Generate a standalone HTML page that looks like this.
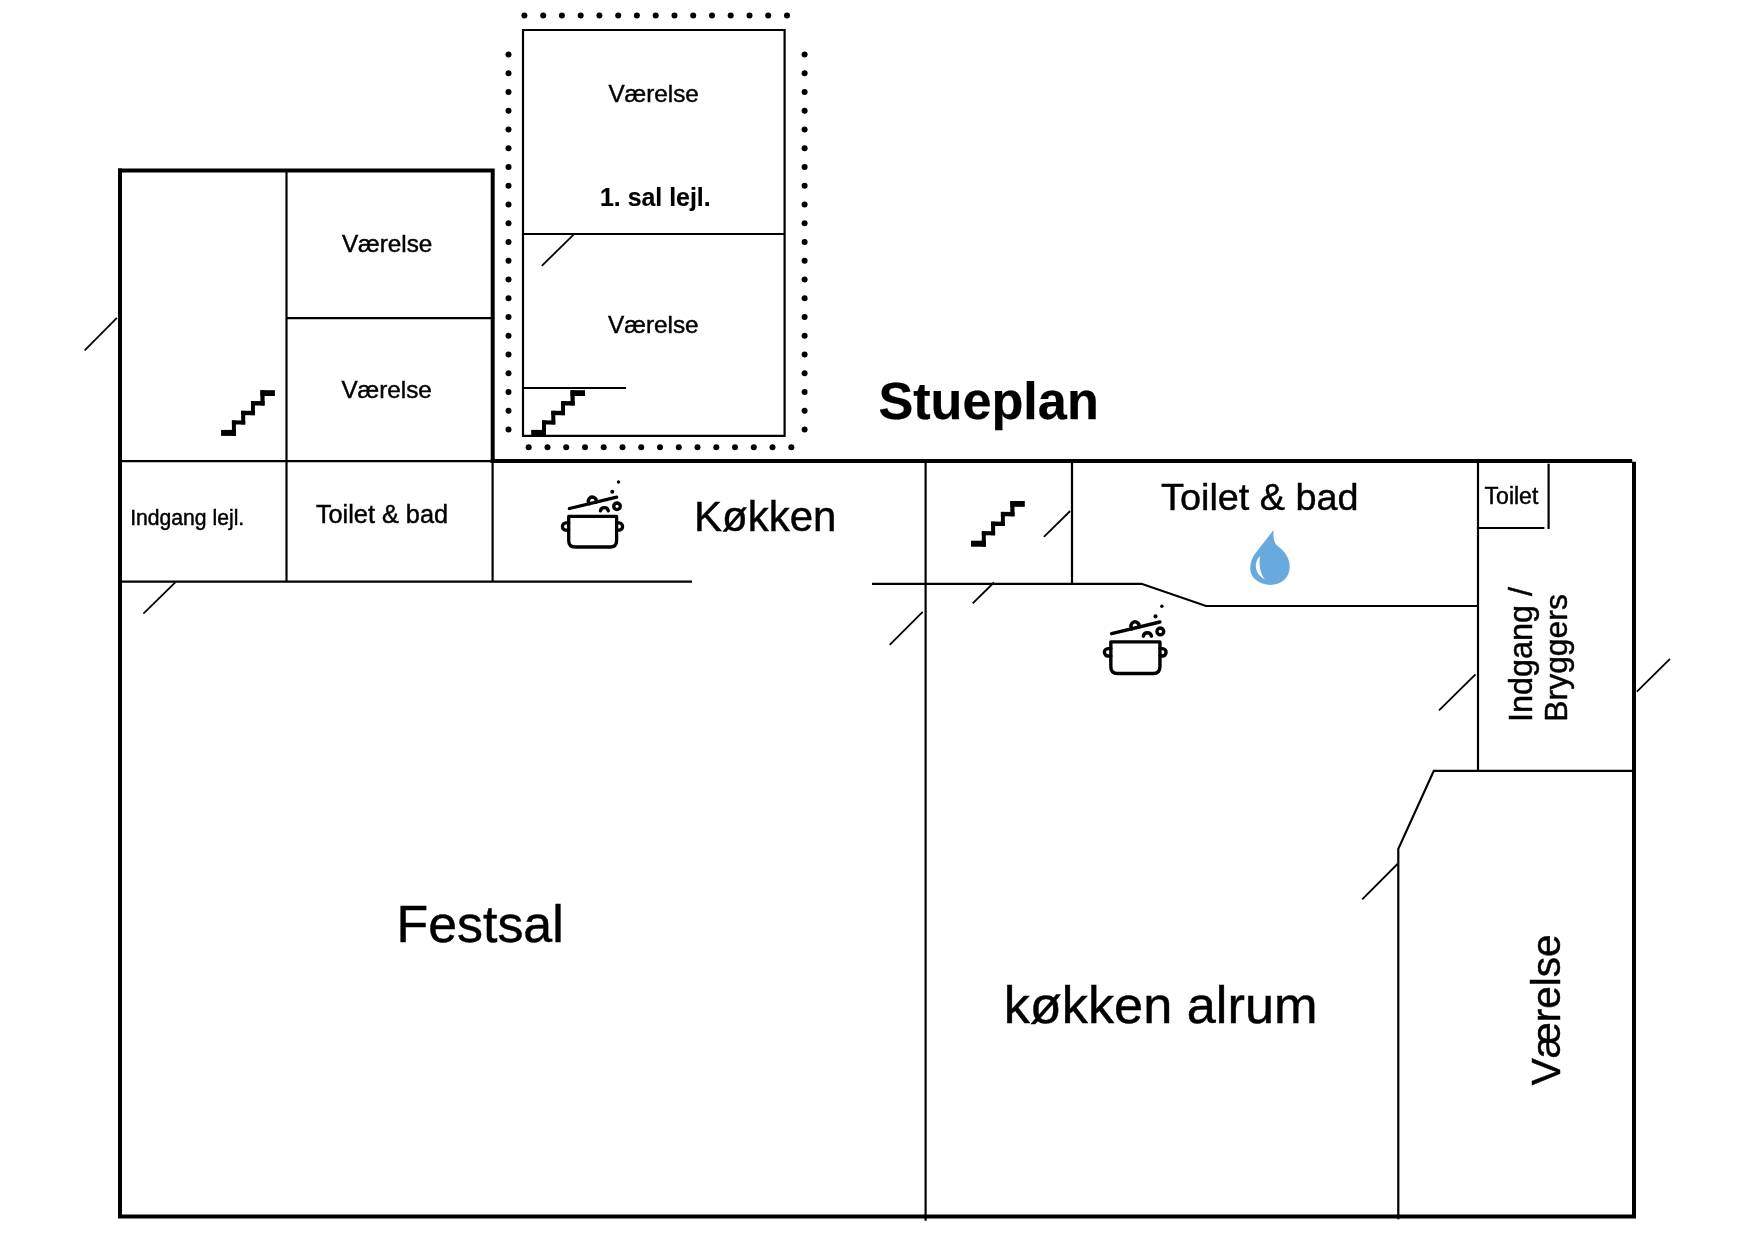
<!DOCTYPE html>
<html><head><meta charset="utf-8"><style>
html,body{margin:0;padding:0;background:#fff;width:1754px;height:1239px;overflow:hidden}
svg{display:block;will-change:transform}
text{font-family:"Liberation Sans",sans-serif;fill:#000;stroke:#000;stroke-width:0.45px}
</style></head><body>
<svg width="1754" height="1239" viewBox="0 0 1754 1239">
<rect width="1754" height="1239" fill="#fff"/>
<defs>
<g id="stairs">
<rect x="221.1" y="429.9" width="14.8" height="6.0"/>
<rect x="231.9" y="420.4" width="4.0" height="15.4"/>
<rect x="231.9" y="420.4" width="13.3" height="4.1"/>
<rect x="241.2" y="410.8" width="4.0" height="13.7"/>
<rect x="241.2" y="410.8" width="13.7" height="4.4"/>
<rect x="251.0" y="401.1" width="3.9" height="14.1"/>
<rect x="251.0" y="401.1" width="13.6" height="4.4"/>
<rect x="260.4" y="390.2" width="4.2" height="15.3"/>
<rect x="260.4" y="390.2" width="14.5" height="5.8"/>
</g>
<g id="pot" fill="none" stroke="#000" stroke-width="3.3" stroke-linecap="round" stroke-linejoin="round">
<path d="M568.7 516.4 H616.6 V540.5 Q616.6 547 610.1 547 H575.2 Q568.7 547 568.7 540.5 Z"/>
<path d="M568.7 522.9 H566 A3.6 3.6 0 0 0 566 530.1 H568.7"/>
<path d="M616.6 522.9 H619 A3.6 3.6 0 0 1 619 530.1 H616.6"/>
<path d="M569.4 508.5 L616.6 497.2"/>
<path d="M589.5 503.69 A3.9 3.9 0 1 1 596 502.13"/>
<path d="M600.4 510.9 A4 4 0 0 1 608.3 510.9"/>
<circle cx="617" cy="506.3" r="3.3"/>
<circle cx="612.3" cy="491.8" r="2.0" fill="#000" stroke="none"/>
<circle cx="618.5" cy="482" r="1.7" fill="#000" stroke="none"/>
</g>
</defs>
<g fill="#000">
<circle cx="524.4" cy="15.5" r="3.0"/>
<circle cx="543.2" cy="15.5" r="3.0"/>
<circle cx="561.9" cy="15.5" r="3.0"/>
<circle cx="580.7" cy="15.5" r="3.0"/>
<circle cx="599.4" cy="15.5" r="3.0"/>
<circle cx="618.2" cy="15.5" r="3.0"/>
<circle cx="636.9" cy="15.5" r="3.0"/>
<circle cx="655.7" cy="15.5" r="3.0"/>
<circle cx="674.5" cy="15.5" r="3.0"/>
<circle cx="693.2" cy="15.5" r="3.0"/>
<circle cx="712.0" cy="15.5" r="3.0"/>
<circle cx="730.7" cy="15.5" r="3.0"/>
<circle cx="749.5" cy="15.5" r="3.0"/>
<circle cx="768.2" cy="15.5" r="3.0"/>
<circle cx="787.0" cy="15.5" r="3.0"/>
<circle cx="528.7" cy="447.3" r="3.0"/>
<circle cx="547.5" cy="447.3" r="3.0"/>
<circle cx="566.2" cy="447.3" r="3.0"/>
<circle cx="585.0" cy="447.3" r="3.0"/>
<circle cx="603.7" cy="447.3" r="3.0"/>
<circle cx="622.5" cy="447.3" r="3.0"/>
<circle cx="641.2" cy="447.3" r="3.0"/>
<circle cx="660.0" cy="447.3" r="3.0"/>
<circle cx="678.8" cy="447.3" r="3.0"/>
<circle cx="697.5" cy="447.3" r="3.0"/>
<circle cx="716.3" cy="447.3" r="3.0"/>
<circle cx="735.0" cy="447.3" r="3.0"/>
<circle cx="753.8" cy="447.3" r="3.0"/>
<circle cx="772.5" cy="447.3" r="3.0"/>
<circle cx="791.3" cy="447.3" r="3.0"/>
<circle cx="508.5" cy="54.5" r="3.0"/>
<circle cx="508.5" cy="73.2" r="3.0"/>
<circle cx="508.5" cy="92.0" r="3.0"/>
<circle cx="508.5" cy="110.8" r="3.0"/>
<circle cx="508.5" cy="129.5" r="3.0"/>
<circle cx="508.5" cy="148.2" r="3.0"/>
<circle cx="508.5" cy="167.0" r="3.0"/>
<circle cx="508.5" cy="185.8" r="3.0"/>
<circle cx="508.5" cy="204.5" r="3.0"/>
<circle cx="508.5" cy="223.2" r="3.0"/>
<circle cx="508.5" cy="242.0" r="3.0"/>
<circle cx="508.5" cy="260.8" r="3.0"/>
<circle cx="508.5" cy="279.5" r="3.0"/>
<circle cx="508.5" cy="298.2" r="3.0"/>
<circle cx="508.5" cy="317.0" r="3.0"/>
<circle cx="508.5" cy="335.8" r="3.0"/>
<circle cx="508.5" cy="354.5" r="3.0"/>
<circle cx="508.5" cy="373.2" r="3.0"/>
<circle cx="508.5" cy="392.0" r="3.0"/>
<circle cx="508.5" cy="410.8" r="3.0"/>
<circle cx="508.5" cy="429.5" r="3.0"/>
<circle cx="804.6" cy="54.4" r="3.0"/>
<circle cx="804.6" cy="73.2" r="3.0"/>
<circle cx="804.6" cy="91.9" r="3.0"/>
<circle cx="804.6" cy="110.7" r="3.0"/>
<circle cx="804.6" cy="129.4" r="3.0"/>
<circle cx="804.6" cy="148.2" r="3.0"/>
<circle cx="804.6" cy="166.9" r="3.0"/>
<circle cx="804.6" cy="185.7" r="3.0"/>
<circle cx="804.6" cy="204.4" r="3.0"/>
<circle cx="804.6" cy="223.2" r="3.0"/>
<circle cx="804.6" cy="242.0" r="3.0"/>
<circle cx="804.6" cy="260.7" r="3.0"/>
<circle cx="804.6" cy="279.5" r="3.0"/>
<circle cx="804.6" cy="298.2" r="3.0"/>
<circle cx="804.6" cy="317.0" r="3.0"/>
<circle cx="804.6" cy="335.7" r="3.0"/>
<circle cx="804.6" cy="354.5" r="3.0"/>
<circle cx="804.6" cy="373.2" r="3.0"/>
<circle cx="804.6" cy="392.0" r="3.0"/>
<circle cx="804.6" cy="410.7" r="3.0"/>
<circle cx="804.6" cy="429.5" r="3.0"/>
</g>
<!-- thick walls -->
<g stroke="#000" stroke-width="4" fill="none" stroke-linecap="square">
<path d="M120 170.6 H492.7 V461"/>
<path d="M120 170.6 V1216.6 H1634 V463.7"/>
<path d="M492.7 461 H1630.2"/>
</g>
<!-- thin lines -->
<g stroke="#000" stroke-width="2.2" fill="none">
<path d="M286.5 171 V581.6"/>
<path d="M286.5 318.2 H492.7"/>
<path d="M120 461.2 H492.7"/>
<path d="M120 581.6 H692"/>
<path d="M492.6 461 V581.6"/>
<path d="M523 30 H784.6 V435.8 H523 Z"/>
<path d="M523 234 H784.6"/>
<path d="M523 388 H626.1"/>
<path d="M925.6 463 V1220.8"/>
<path d="M872 583.8 H1141.5 L1206 606 H1478"/>
<path d="M1072 463 V584"/>
<path d="M1478 463 V770.8"/>
<path d="M1548.6 463.7 V529"/>
<path d="M1478 528 H1544.4"/>
<path d="M1632 770.8 H1433.8 L1398.3 848.9 V1219.3"/>
</g>
<!-- doors -->
<g stroke="#000" stroke-width="1.8" fill="none">
<path d="M84.7 350.3 L116.9 317.8"/>
<path d="M143.4 613.6 L175.3 582.4"/>
<path d="M541.8 265.9 L573.6 234.6"/>
<path d="M889.7 644.9 L922.7 611.9"/>
<path d="M972.7 603.4 L993.9 582.5"/>
<path d="M1043.9 536.8 L1070.2 511"/>
<path d="M1439 710.4 L1475.5 674.3"/>
<path d="M1636.9 691.6 L1670 658.8"/>
<path d="M1362.2 899.3 L1397.5 864"/>
</g>
<!-- stairs -->
<use href="#stairs"/>
<use href="#stairs" transform="translate(310.1 0)"/>
<use href="#stairs" transform="translate(749.9 110.8)"/>
<!-- pots -->
<use href="#pot"/>
<use href="#pot" transform="translate(1109.3 640.1) scale(1.025 1.035) translate(-567.2 -514.7)"/>
<!-- water drop -->
<path fill="#68a9de" d="M1273.6 529.9 C1273.2 536 1273.4 541.5 1276.5 545 C1284.5 551 1289.7 557.5 1289.7 567 C1289.7 577.5 1281.5 584.9 1270.5 584.9 C1259 584.9 1250.2 577.5 1250.2 568.5 C1250.2 562 1252.5 556.5 1256.4 552 Z"/>
<path fill="#fff" d="M1260 556 C1254 562 1253.5 573 1265 579.5 C1259.5 573 1259 564 1260 556 Z"/>
<!-- texts -->
<text x="608.4" y="102" font-size="24.3">Værelse</text>
<text x="600" y="205.6" font-size="24.9" font-weight="700" style="stroke-width:0.15px">1. sal lejl.</text>
<text x="608.1" y="332.5" font-size="24.3">Værelse</text>
<text x="341.9" y="251.7" font-size="24.3">Værelse</text>
<text x="341.4" y="397.8" font-size="24.3">Værelse</text>
<text x="130.2" y="524.8" font-size="21.15">Indgang lejl.</text>
<text x="315.9" y="523.3" font-size="25.3">Toilet &amp; bad</text>
<text x="694.1" y="531.1" font-size="42">Køkken</text>
<text x="878.4" y="419.3" font-size="52.2" font-weight="700" style="stroke-width:0.25px">Stueplan</text>
<text x="1161.1" y="509.9" font-size="37.8">Toilet &amp; bad</text>
<text x="1484.6" y="503.8" font-size="23">Toilet</text>
<text transform="translate(1531.8 722) rotate(-90)" font-size="32.4">Indgang /</text>
<text transform="translate(1567.3 721.7) rotate(-90)" font-size="31.9">Bryggers</text>
<text transform="translate(1560.1 1085.2) rotate(-90)" font-size="40.5">Værelse</text>
<text x="396.5" y="941.7" font-size="51.9">Festsal</text>
<text x="1003.7" y="1023" font-size="52.3">køkken alrum</text>
</svg>
</body></html>
